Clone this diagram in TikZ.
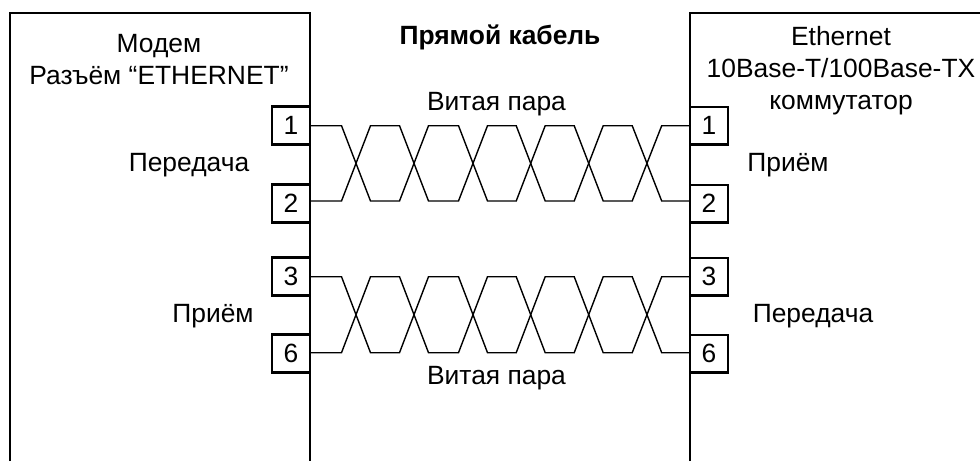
\documentclass[tikz,border=0pt]{standalone}
\usepackage{fontspec}
\setmainfont{Liberation Sans}
\tikzset{
  px/.style={x=0.75pt,y=-0.75pt},
  frameline/.style={line width=1.9pt,line cap=butt,line join=miter},
  pinbase/.style={draw,minimum width=28.5pt,minimum height=28pt,inner sep=0pt,font=\fontsize{19.8pt}{24pt}\selectfont,fill=white},
  pinl/.style={pinbase,line width=2.15pt},
  pinr/.style={pinbase,line width=2pt},
  wire/.style={line width=1.05pt,line join=miter},
  label/.style={font=\fontsize{19.8pt}{24pt}\selectfont,align=center,inner sep=0pt},
  single/.style={label,anchor=base},
}
\begin{document}
\begin{tikzpicture}[px]
\useasboundingbox (0,0) rectangle (980,461);
\fill[white] (0,0) rectangle (980,461);
\coordinate (lb) at (10,461);
\coordinate (lt) at (10,13);
\coordinate (lr) at (310,13);
\coordinate (lrb) at (310,461);
\coordinate (rb) at (690,461);
\coordinate (rt) at (690,13);
\coordinate (rr) at (980,13);
\draw[frameline] (lb) -- (lt) -- (lr) -- (lrb);
\draw[frameline] (rb) -- (rt) -- (rr);
\node[pinl] (a1) at (291,125.5) {1};
\node[pinl] (a2) at (291,203.5) {2};
\node[pinl] (a3) at (291,276.5) {3};
\node[pinl] (a6) at (291,353.5) {6};
\node[pinr] (b1) at (709,125.5) {1};
\node[pinr] (b2) at (709,203.5) {2};
\node[pinr] (b3) at (709,276.5) {3};
\node[pinr] (b6) at (709,353.5) {6};
\coordinate (s1) at (310.8,125.7);
\coordinate (s2) at (310.8,201);
\coordinate (s3) at (310.8,276.7);
\coordinate (s6) at (310.8,352.7);
\coordinate (e1) at (689.2,125.7);
\coordinate (e2) at (689.2,201);
\coordinate (e3) at (689.2,276.7);
\coordinate (e6) at (689.2,352.7);
\foreach \st/\en/\d in {s1/e1/75.3,s2/e2/-75.3,s3/e3/76,s6/e6/-76}{
  \draw[wire] (\st) -- ++(30.7,0)
   -- ++(29,\d) -- ++(29,0) -- ++(29,-\d) -- ++(30,0) -- ++(29,\d) -- ++(28.7,0)
   -- ++(29,-\d) -- ++(29,0) -- ++(29,\d) -- ++(29,0) -- ++(29.5,-\d) -- (\en);
}
\node[label] (t1) at (159,60) {Модем\\Разъём “ETHERNET”};
\node[single,font=\fontsize{19.8pt}{24pt}\selectfont\bfseries] (t2) at (500,44.3) {Прямой кабель};
\node[label] (t3) at (841,70.7) {Ethernet\\10Base-T/100Base-TX\\коммутатор};
\node[single] (t4) at (496.5,110) {Витая пара};
\node[single] (t5) at (496.5,384) {Витая пара};
\node[single] (t6) at (189,171.7) {Передача};
\node[single] (t7) at (213,322.7) {Приём};
\node[single] (t8) at (788,171.7) {Приём};
\node[single] (t9) at (813,322.7) {Передача};
\end{tikzpicture}
\end{document}
